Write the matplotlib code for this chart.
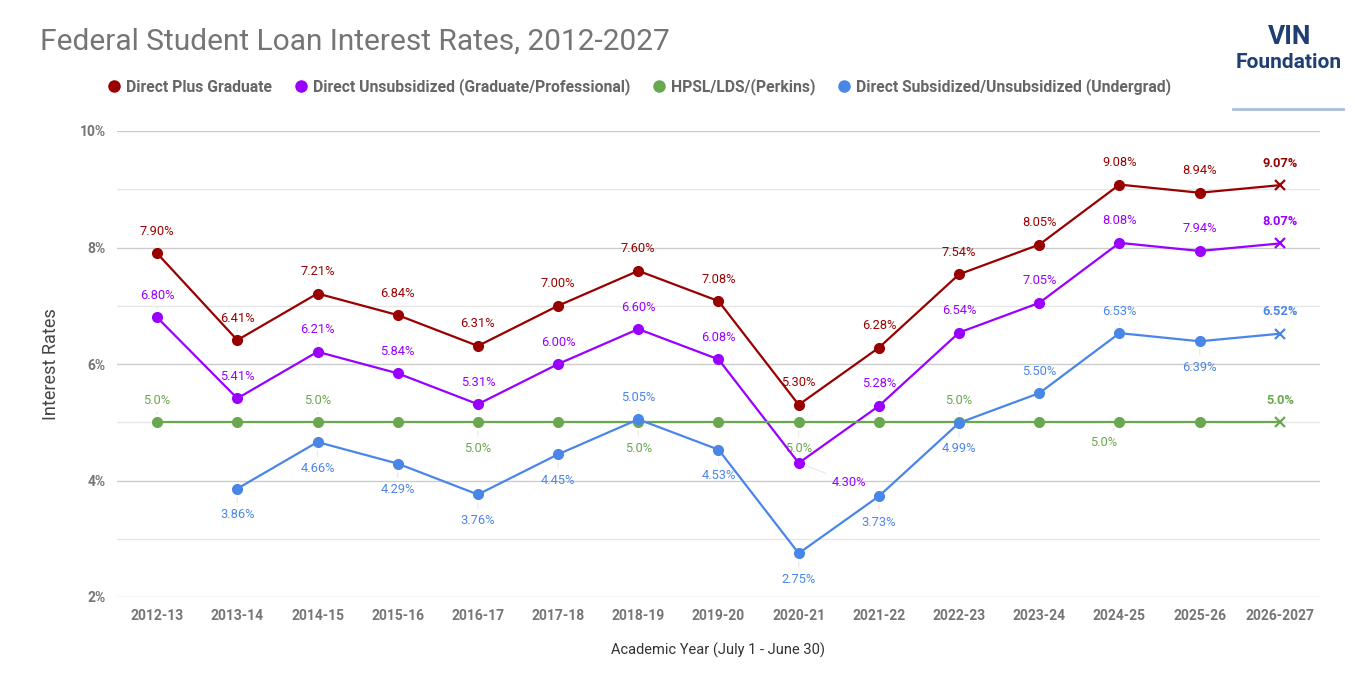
import numpy as np
import matplotlib
matplotlib.use('Agg')
import matplotlib.pyplot as plt
from matplotlib.lines import Line2D

plt.rcParams['font.family'] = ['Roboto', 'DejaVu Sans']

# Academic years and rates (%)
years = ['2012-13', '2013-14', '2014-15', '2015-16', '2016-17', '2017-18', '2018-19',
         '2019-20', '2020-21', '2021-22', '2022-23', '2023-24', '2024-25', '2025-26', '2026-2027']
plus_grad = [7.90, 6.41, 7.21, 6.84, 6.31, 7.00, 7.60, 7.08, 5.30, 6.28, 7.54, 8.05, 9.08, 8.94, 9.07]
unsub_grad = [6.80, 5.41, 6.21, 5.84, 5.31, 6.00, 6.60, 6.08, 4.30, 5.28, 6.54, 7.05, 8.08, 7.94, 8.07]
hpsl = [5.0] * 15
undergrad = [None, 3.86, 4.66, 4.29, 3.76, 4.45, 5.05, 4.53, 2.75, 3.73, 4.99, 5.50, 6.53, 6.39, 6.52]

series_names = ['Direct Plus Graduate', 'Direct Unsubsidized (Graduate/Professional)',
                'HPSL/LDS/(Perkins)', 'Direct Subsidized/Unsubsidized (Undergrad)']
colors = ['#990000', '#9900ff', '#6aa84f', '#4a86e8']

# label placement per point: 'a' above, 'b' below (pixel offsets handled below)
plus_pos = ['a'] * 15
unsub_pos = ['a'] * 8 + ['br'] + ['a'] * 6
hpsl_pos = ['a', None, 'a', None, 'b', None, 'b', None, 'b', None, 'a', None, 'bl', None, 'a']
under_pos = [None, 'b', 'b', 'b', 'b', 'b', 'a', 'b', 'b', 'b', 'b', 'a', 'a', 'b', 'a']

offsets = {'a': (0, 22), 'b': (0, -26), 'br': (50, -19), 'bl': (-16, -20)}

fig = plt.figure(figsize=(13.55, 6.94), dpi=100)
ax = fig.add_axes([117 / 1355, 1 - 597 / 694, (1320 - 117) / 1355, (597 - 131) / 694])

x = np.arange(len(years))
ax.set_xlim(-0.5, len(years) - 0.5)
ax.set_ylim(2, 10)
ax.set_yticks([2, 4, 6, 8, 10])
ax.set_yticklabels(['2%', '4%', '6%', '8%', '10%'])
ax.set_yticks([3, 5, 7, 9], minor=True)
ax.grid(which='major', axis='y', color='#cccccc', lw=1)
ax.grid(which='minor', axis='y', color='#e6e6e6', lw=1)
ax.set_axisbelow(True)
for s in ax.spines.values():
    s.set_visible(False)
ax.tick_params(which='both', length=0)
ax.tick_params(axis='y', pad=8, labelsize=10, labelcolor='#757575')
ax.tick_params(axis='x', pad=9, labelsize=10, labelcolor='#757575')
ax.set_xticks(x)
ax.set_xticklabels(years)
for lbl in ax.get_xticklabels() + ax.get_yticklabels():
    lbl.set_fontweight('bold')

all_series = [plus_grad, unsub_grad, hpsl, undergrad]
all_pos = [plus_pos, unsub_pos, hpsl_pos, under_pos]

for vals, pos, col in zip(all_series, all_pos, colors):
    v = np.array([np.nan if a is None else a for a in vals], dtype=float)
    ax.plot(x, v, color=col, lw=1.6, zorder=3)
    ax.plot(x[:-1], v[:-1], 'o', color=col, ms=7, zorder=4)
    ax.plot(x[-1:], v[-1:], 'x', color=col, ms=7, mew=1.6, zorder=4)
    for i, (val, p) in enumerate(zip(vals, pos)):
        if val is None or p is None:
            continue
        txt = f'{val:.1f}%' if col == colors[2] else f'{val:.2f}%'
        dx, dy = offsets[p]
        ax.annotate(txt, (x[i], val), xytext=(dx, dy), textcoords='offset pixels',
                    ha='center', va='center', fontsize=9.3, color=col,
                    fontweight='bold' if i == len(years) - 1 else 'normal',
                    arrowprops=dict(arrowstyle='-', color='#ececec', lw=1,
                                    shrinkA=2, shrinkB=6),
                    zorder=2)

ax.set_ylabel('Interest Rates', fontsize=13, color='#444444', labelpad=14)
ax.set_xlabel('Academic Year (July 1 - June 30)', fontsize=10.5, color='#333333', labelpad=14)

fig.text(40 / 1355, 1 - 42 / 694, 'Federal Student Loan Interest Rates, 2012-2027',
         fontsize=21.5, color='#757575', ha='left', va='center')

handles = [Line2D([], [], marker='o', ls='none', color=c, ms=8) for c in colors]
leg = fig.legend(handles, series_names, loc='center', ncol=4, frameon=False,
                 bbox_to_anchor=(638 / 1355, 1 - 87 / 694), handletextpad=0.15,
                 columnspacing=1.25, handlelength=1.2,
                 prop={'size': 11.3, 'weight': 'bold'})
for t in leg.get_texts():
    t.set_color('#666666')

# logo text
fig.text(1290 / 1355, 1 - 37 / 694, 'VIN', fontsize=19, fontweight='bold',
         color='#1f3f73', ha='center', va='center')
fig.text(1289 / 1355, 1 - 63 / 694, 'Foundation', fontsize=15, fontweight='bold',
         color='#1f3f73', ha='center', va='center')
fig.add_artist(Line2D([1233 / 1355, 1343 / 1355], [1 - 109 / 694, 1 - 109 / 694],
                      color='#a9bfdc', lw=2))

fig.savefig('out.png', dpi=100)
